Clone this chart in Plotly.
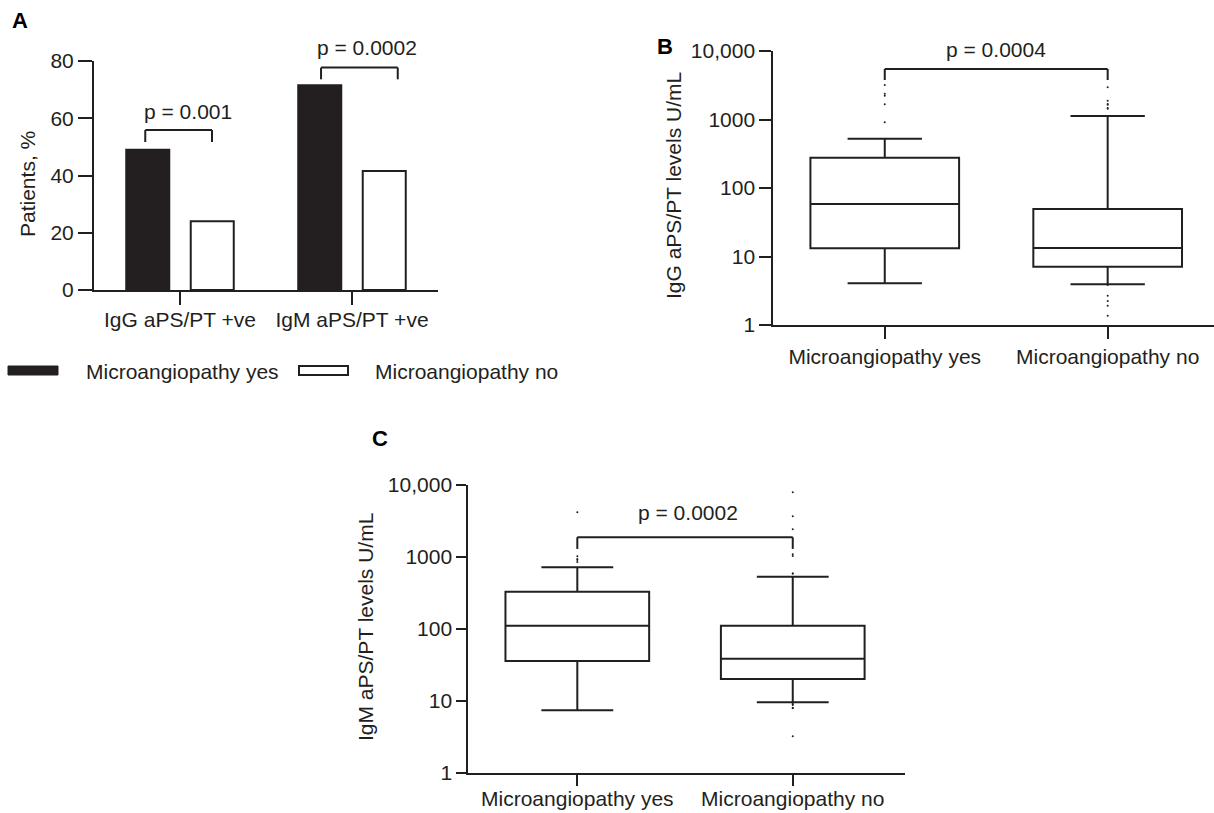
import numpy as np
import plotly.graph_objects as go

W, H = 1214, 813
DARK = "#231f20"
FONT = "Liberation Sans"
FS = 21

# ---------------- Data ----------------
# Panel A
bar_categories = ["IgG aPS/PT +ve", "IgM aPS/PT +ve"]
pct_yes = [49.0, 71.5]
pct_no = [24.0, 41.6]
pvals_A = ["p = 0.001", "p = 0.0002"]

# Panel B (IgG aPS/PT levels U/mL)
box_categories = ["Microangiopathy yes", "Microangiopathy no"]
igg_q1 = [13.2, 7.1]
igg_median = [58.4, 13.3]
igg_q3 = [277, 49.4]
igg_lower = [4.06, 3.93]
igg_upper = [525, 1125]
igg_out_yes = [3190, 2380, 2225, 1667, 910]
igg_out_no = [2953, 1881, 1684, 1644, 1472, 1438, 3.84, 2.68, 2.24, 1.91, 1.37]
pval_B = "p = 0.0004"

# Panel C (IgM aPS/PT levels U/mL)
igm_q1 = [35.8, 20.1]
igm_median = [110, 38.5]
igm_q3 = [329, 110]
igm_lower = [7.38, 9.53]
igm_upper = [719, 532]
igm_out_yes = [4185, 1023, 938, 908, 852]
igm_out_no = [7940, 3683, 2428, 1090, 1032, 586, 586, 8.94, 8.74, 8.02, 7.86, 9.31, 3.21]
pval_C = "p = 0.0002"

log_ticks = [1, 10, 100, 1000, 10000]
log_ticktext = ["1", "10", "100", "1000", "10,000"]
legend_labels = ["Microangiopathy yes", "Microangiopathy no"]
y_titles = ["Patients, %", "IgG aPS/PT levels U/mL", "IgM aPS/PT levels U/mL"]


def fx(px):
    return px / W


def fy(py):
    return 1 - py / H


# axis domains (paper)
domA_x, domA_y = [fx(94), fx(438)], [fy(290), fy(61)]
domB_x, domB_y = [fx(773.3), 1.0], [fy(325), fy(51)]
domC_x, domC_y = [fx(468.3), fx(905)], [fy(772.7), fy(485)]
rangeA_x, rangeB_x, rangeC_x = [-0.5, 1.5], [-0.5, 1.477], [-0.506, 1.521]


def lin_paper(v, rng, dom):
    return dom[0] + (v - rng[0]) / (rng[1] - rng[0]) * (dom[1] - dom[0])


def log_paper(v, dom):
    return dom[0] + np.log10(v) / 4.0 * (dom[1] - dom[0])


fig = go.Figure()

# ---- Panel A bars ----
fig.add_trace(go.Bar(x=bar_categories, y=pct_yes, name=legend_labels[0],
                     marker=dict(color=DARK, line=dict(color=DARK, width=2)),
                     xaxis="x", yaxis="y", showlegend=False))
fig.add_trace(go.Bar(x=bar_categories, y=pct_no, name=legend_labels[1],
                     marker=dict(color="white", line=dict(color=DARK, width=2)),
                     xaxis="x", yaxis="y", showlegend=False))

# ---- Panel B/C boxes ----
box_style = dict(width=0.667, whiskerwidth=0.5, fillcolor="white",
                 line=dict(color=DARK, width=2), boxpoints=False, showlegend=False)
fig.add_trace(go.Box(x=box_categories, q1=igg_q1, median=igg_median, q3=igg_q3,
                     lowerfence=igg_lower, upperfence=igg_upper,
                     xaxis="x2", yaxis="y2", **box_style))
fig.add_trace(go.Box(x=box_categories, q1=igm_q1, median=igm_median, q3=igm_q3,
                     lowerfence=igm_lower, upperfence=igm_upper,
                     xaxis="x3", yaxis="y3", **box_style))

dot = dict(mode="markers", marker=dict(color=DARK, size=2), showlegend=False, hoverinfo="y")
fig.add_trace(go.Scatter(x=[box_categories[0]] * len(igg_out_yes), y=igg_out_yes, xaxis="x2", yaxis="y2", **dot))
fig.add_trace(go.Scatter(x=[box_categories[1]] * len(igg_out_no), y=igg_out_no, xaxis="x2", yaxis="y2", **dot))
fig.add_trace(go.Scatter(x=[box_categories[0]] * len(igm_out_yes), y=igm_out_yes, xaxis="x3", yaxis="y3", **dot))
fig.add_trace(go.Scatter(x=[box_categories[1]] * len(igm_out_no), y=igm_out_no, xaxis="x3", yaxis="y3", **dot))

axis_common = dict(showline=True, linecolor=DARK, linewidth=2, ticks="outside",
                   tickwidth=2, tickcolor=DARK, showgrid=False, zeroline=False,
                   automargin=False,
                   tickfont=dict(family=FONT, size=FS, color=DARK), fixedrange=True)

fig.update_layout(
    width=W, height=H,
    margin=dict(l=0, r=0, t=0, b=0, autoexpand=False),
    paper_bgcolor="white", plot_bgcolor="white",
    font=dict(family=FONT, size=FS, color=DARK),
    barmode="group", bargap=0.25, bargroupgap=0.333,
    xaxis=dict(domain=domA_x, anchor="y", range=rangeA_x, ticklen=13, ticklabelstandoff=-3,
               type="category", **axis_common),
    yaxis=dict(domain=domA_y, anchor="x", range=[0, 80], tickvals=[0, 20, 40, 60, 80],
               ticklen=14, **axis_common),
    xaxis2=dict(domain=domB_x, anchor="y2", range=rangeB_x, ticklen=12,
                type="category", **axis_common),
    yaxis2=dict(domain=domB_y, anchor="x2", type="log", range=[0, 4],
                tickvals=log_ticks, ticktext=log_ticktext, ticklen=12, **axis_common),
    xaxis3=dict(domain=domC_x, anchor="y3", range=rangeC_x, ticklen=11, ticklabelstandoff=-5,
                type="category", **axis_common),
    yaxis3=dict(domain=domC_y, anchor="x3", type="log", range=[0, 4],
                tickvals=log_ticks, ticktext=log_ticktext, ticklen=10, **axis_common),
)

shapes = []
annotations = []


def bracket(xref, yref, x0, x1, ytop, ybot):
    ln = dict(color=DARK, width=2)
    shapes.append(dict(type="line", xref=xref, yref=yref, x0=x0, x1=x0, y0=ybot, y1=ytop, line=ln))
    shapes.append(dict(type="line", xref=xref, yref=yref, x0=x0, x1=x1, y0=ytop, y1=ytop, line=ln))
    shapes.append(dict(type="line", xref=xref, yref=yref, x0=x1, x1=x1, y0=ybot, y1=ytop, line=ln))


def ptext(x, y, text):
    annotations.append(dict(xref="paper", yref="paper", x=x, y=y, text=text, showarrow=False,
                            yanchor="middle", xanchor="center"))


# Panel A brackets
bracket("x", "y", -0.202, 0.186, 55.9, 51.7)
bracket("x", "y", 0.820, 1.266, 77.7, 73.6)
ptext(lin_paper(0.045, rangeA_x, domA_x), lin_paper(62.2, [0, 80], domA_y), pvals_A[0])
ptext(lin_paper(1.087, rangeA_x, domA_x), lin_paper(84.6, [0, 80], domA_y), pvals_A[1])

# Panel B bracket
bracket("x2", "y2", 0, 1, 5460, 3775)
ptext(lin_paper(0.5, rangeB_x, domB_x), log_paper(10350, domB_y), pval_B)

# Panel C bracket
bracket("x3", "y3", 0, 1, 1879, 1292)
ptext(lin_paper(0.514, rangeC_x, domC_x), log_paper(4130, domC_y), pval_C)

# Y-axis titles (rotated text)
for txt, tx, ty in [(y_titles[0], 27, 184), (y_titles[1], 673, 186), (y_titles[2], 365, 627)]:
    annotations.append(dict(xref="paper", yref="paper", x=fx(tx), y=fy(ty), text=txt, textangle=-90,
                            showarrow=False, xanchor="center", yanchor="middle"))

# Legend (panel A)
shapes.append(dict(type="rect", xref="paper", yref="paper", x0=fx(8), x1=fx(58), y0=fy(375), y1=fy(366),
                   fillcolor=DARK, line=dict(color=DARK, width=1)))
shapes.append(dict(type="rect", xref="paper", yref="paper", x0=fx(299), x1=fx(348), y0=fy(375), y1=fy(366),
                   fillcolor="white", line=dict(color=DARK, width=2)))
annotations.append(dict(xref="paper", yref="paper", x=fx(84), y=fy(371), text=legend_labels[0],
                        showarrow=False, xanchor="left", yanchor="middle"))
annotations.append(dict(xref="paper", yref="paper", x=fx(373), y=fy(371), text=legend_labels[1],
                        showarrow=False, xanchor="left", yanchor="middle"))

# Panel letters
for letter, lx, ly in [("A", 10, 20), ("B", 655, 46), ("C", 370, 438)]:
    annotations.append(dict(xref="paper", yref="paper", x=fx(lx), y=fy(ly), text="<b>%s</b>" % letter,
                            showarrow=False, xanchor="left", yanchor="middle",
                            font=dict(family=FONT, size=22, color="black")))

fig.update_layout(shapes=shapes, annotations=annotations)
fig.write_html("out.html", config={"displayModeBar": False},
               post_script="document.body.style.margin='0';document.body.style.overflow='hidden';")
